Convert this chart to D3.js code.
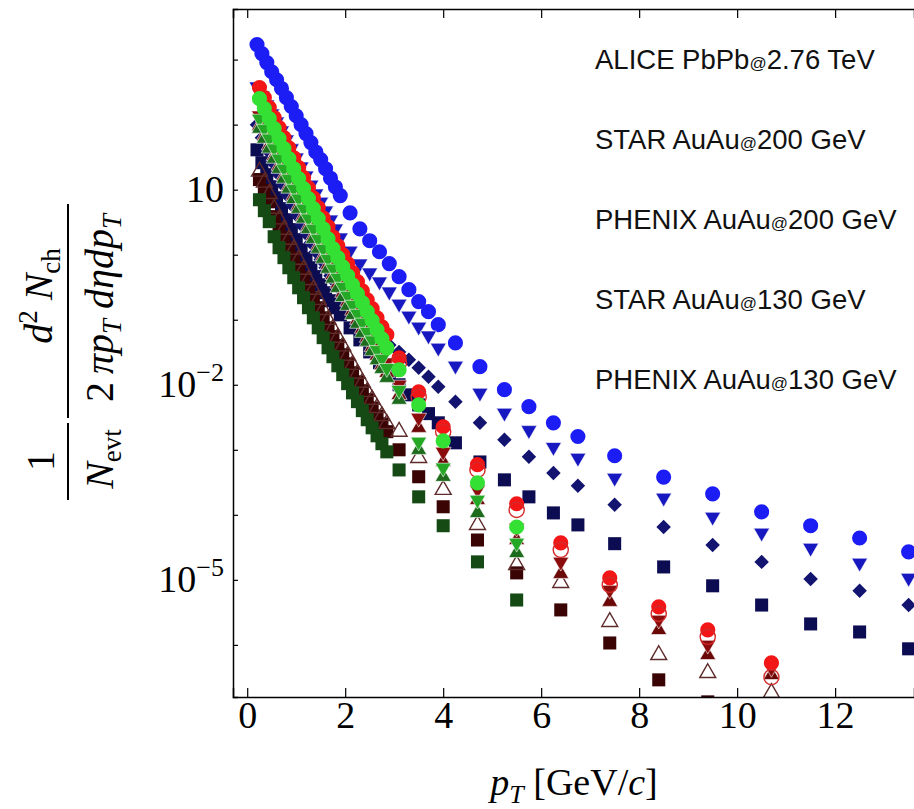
<!DOCTYPE html>
<html>
<head>
<meta charset="utf-8">
<script src="https://cdn.jsdelivr.net/npm/d3@7"></script>
<style>
body { margin: 0; background: #fff; }
</style>
</head>
<body>
<script>
var W = 914, H = 809

// ALICE PbPb 2.76 TeV (blue family)
var ptAlice = [0.2,0.3,0.4,0.5,0.6,0.7,0.8,0.9,1.0,1.1,1.2,1.3,1.4,1.5,1.6,1.7,1.8,1.9,
  2.1,2.3,2.5,2.7,2.9,3.1,3.3,3.5,3.7,3.9,4.25,4.75,5.25,5.75,6.25,6.75,7.5,8.5,9.5,10.5,11.5,12.5,13.5]
var aliceCircle = [1700,1240,900,650,490,360,260,190,137,100,73,53,38,29,21,15,11,8.1,
  4.4,2.5,1.64,1.11,0.73,0.46,0.29,0.19,0.133,0.084,0.044,0.019,0.0084,0.0046,0.0026,0.0016,
  8.1e-4,3.8e-4,2.1e-4,1.11e-4,6.8e-5,4.4e-5,2.7e-5]
var aliceDown = [385,279,203,148,111,81,59,43,31,22.6,16.4,11.9,8.7,6.5,4.75,3.45,2.51,1.83,
  1.15,0.73,0.53,0.385,0.27,0.176,0.115,0.078,0.057,0.037,0.0196,0.0075,0.0037,0.0020,0.0011,7.5e-4,
  3.7e-4,1.83e-4,9.3e-5,5.3e-5,3.1e-5,1.83e-5,1.07e-5]
var aliceDiamond = [100,63,41,27,18.3,12.4,8.4,5.9,4.1,2.9,2.1,1.53,1.11,0.84,0.63,0.475,0.37,0.29,
  0.183,0.119,0.081,0.057,0.041,0.032,0.0243,0.0183,0.0133,0.0093,0.0055,0.0026,0.00143,7.8e-4,4.4e-4,2.8e-4,
  1.43e-4,6.5e-5,3.45e-5,1.89e-5,1.03e-5,6.8e-6,4.1e-6]
var aliceSquare = [41,26,17,11.1,7.5,5.1,3.45,2.43,1.70,1.19,0.87,0.63,0.46,0.345,0.26,0.196,0.153,0.119,
  0.075,0.049,0.032,0.0218,0.0148,0.010,0.0070,0.0049,0.0036,0.0026,0.00128,6.5e-4,3.45e-4,1.89e-4,1.07e-4,7.0e-5,
  3.6e-5,1.58e-5,8.1e-6,4.1e-6,2.1e-6,1.58e-6,8.7e-7]

// AuAu 200 GeV (red family)
var ptRed = [0.25,0.35,0.45,0.55,0.65,0.75,0.85,0.95,1.05,1.15,1.25,1.35,1.45,1.55,1.65,1.75,1.85,1.95,
  2.05,2.15,2.25,2.35,2.45,2.55,2.65,2.75,2.85,3.1,3.5,4.0,4.7,5.5,6.4,7.4,8.4,9.4,10.7]
var redCircle = [371,260,183,128,90,63,44,31,21.8,15.3,10.7,7.5,5.3,3.7,2.70,1.89,1.37,1.0,
  0.73,0.53,0.385,0.279,0.203,0.148,0.107,0.078,0.059,0.026,0.0078,0.00226,5.9e-4,1.48e-4,3.7e-5,1.07e-5,3.85e-6,1.70e-6,5.3e-7]
var redDown = [138,96,68,47.5,33.4,23.4,16.3,11.5,8.1,5.7,4.0,2.78,1.97,1.37,1.0,0.70,0.51,0.371,
  0.271,0.197,0.143,0.104,0.075,0.055,0.040,0.029,0.022,0.010,0.0031,9.3e-4,2.43e-4,6.3e-5,1.89e-5,7.0e-6,2.43e-6,1.0e-6,4.4e-7]
var redUp = [96,68,48,33,23.4,16.4,11.4,8.1,5.7,4.0,2.78,1.95,1.38,0.96,0.70,0.49,0.36,0.26,
  0.19,0.138,0.100,0.073,0.053,0.038,0.028,0.020,0.0153,0.0070,0.00218,6.5e-4,1.70e-4,4.1e-5,1.24e-5,4.6e-6,1.70e-6,7.0e-7,3.45e-7]
var redOpenTri = [19,12.9,8.6,5.1,3.5,2.43,1.70,1.20,0.84,0.59,0.41,0.29,0.203,0.142,0.100,0.073,0.053,0.039,
  0.028,0.0203,0.0148,0.0108,0.0078,0.0059,0.0044,0.0033,0.0025,0.0019,7.5e-4,2.43e-4,7.0e-5,1.70e-5,9.0e-6,2.26e-6,7.0e-7,3.7e-7,1.83e-7]
var redSquare = [14.3,9.7,6.5,3.85,2.6,1.83,1.28,0.90,0.63,0.443,0.31,0.218,0.153,0.107,0.075,0.055,0.040,0.029,
  0.021,0.0153,0.0111,0.0081,0.0059,0.0044,0.0033,0.0025,0.0019,0.0010,3.85e-4,1.33e-4,4.1e-5,1.28e-5,3.45e-6,1.07e-6,2.9e-7,1.33e-7,null]
var ptRedOpen = [3.1,3.5,4.0,4.7,5.5,6.4,7.4,8.4,9.4,10.7]
var redOpenCircle = [0.022,0.0065,0.0019,4.9e-4,1.19e-4,2.9e-5,8.4e-6,3.0e-6,1.33e-6,3.2e-7]

// AuAu 130 GeV (green family)
var ptGreen = [0.25,0.35,0.45,0.55,0.65,0.75,0.85,0.95,1.05,1.15,1.25,1.35,1.45,1.55,1.65,1.75,1.85,1.95,
  2.05,2.15,2.25,2.35,2.45,2.55,2.65,2.75,2.85,3.1,3.5,4.0,4.7,5.5]
var greenCircle = [251,176,124,87,61,42.8,30,21,14.8,10.4,7.3,5.1,3.58,2.51,1.76,1.24,0.90,0.65,
  0.475,0.345,0.251,0.183,0.133,0.097,0.070,0.051,0.037,0.017,0.0049,0.00137,3.1e-4,6.5e-5]
var greenDown = [123,86,61,43,30,21,14.7,10.3,7.3,5.1,3.6,2.5,1.75,1.23,0.86,0.61,0.44,0.32,
  0.233,0.169,0.123,0.090,0.065,0.048,0.034,0.025,0.018,0.0083,0.00133,5.3e-4,1.70e-4,3.7e-5]
var greenUp = [87,61,43,30,21,14.8,10.4,7.2,5.1,3.6,2.5,1.76,1.24,0.87,0.61,0.43,0.31,0.224,
  0.164,0.119,0.087,0.063,0.046,0.033,0.024,0.0176,0.0128,0.0059,0.001,3.85e-4,1.07e-4,2.6e-5]
var greenSquare = [7.0,4.75,3.22,1.89,1.28,0.90,0.63,0.443,0.31,0.218,0.153,0.107,0.075,0.053,0.037,0.027,0.0196,0.0143,
  0.0104,0.0075,0.0055,0.0040,0.0029,0.00218,0.00164,0.00124,9.3e-4,4.9e-4,1.89e-4,6.8e-5,1.89e-5,4.9e-6]

var legendLabels = ["ALICE PbPb@2.76 TeV", "STAR AuAu@200 GeV", "PHENIX AuAu@200 GeV",
  "STAR AuAu@130 GeV", "PHENIX AuAu@130 GeV"]
var xTicks = [0, 2, 4, 6, 8, 10, 12]
var yLabelled = [1e1, 1e-2, 1e-5]

// drawing order: bottom first
var series = [
  {pt: ptAlice, v: aliceSquare, shape: "square", fill: "#0c0c52"},
  {pt: ptAlice, v: aliceDiamond, shape: "diamond", fill: "#131370"},
  {pt: ptAlice, v: aliceCircle, shape: "circle", fill: "#1c1cf5"},
  {pt: ptAlice, v: aliceDown, shape: "down", fill: "#1818c0"},
  {pt: ptRed, v: redSquare, shape: "square", fill: "#3a0404"},
  {pt: ptRed, v: redOpenTri, shape: "up", fill: "none", stroke: "#5e2a2a"},
  {pt: ptGreen, v: greenSquare, shape: "square", fill: "#154a15"},
  {pt: ptRed, v: redUp, shape: "up", fill: "#6a0808"},
  {pt: ptRed, v: redDown, shape: "down", fill: "#8a0c0c"},
  {pt: ptRed, v: redCircle, shape: "circle", fill: "#f21616"},
  {pt: ptRedOpen, v: redOpenCircle, shape: "circle", fill: "none", stroke: "#d42a2a"},
  {pt: ptGreen, v: greenUp, shape: "up", fill: "#1d6b1d"},
  {pt: ptGreen, v: greenDown, shape: "down", fill: "#25a825"},
  {pt: ptGreen, v: greenCircle, shape: "circle", fill: "#35e035"}
]

var plot = {left: 233, top: 9, right: 914, bottom: 697}

var x = d3.scaleLinear().domain([-0.29, 13.61]).range([plot.left, plot.right])
var y = d3.scaleLog().domain([1.58e-7, 6.0e3]).range([plot.bottom, plot.top])

var svg = d3.select("body").append("svg")
    .attr("width", W)
    .attr("height", H)

svg.append("defs").append("clipPath")
    .attr("id", "clip")
    .append("rect")
    .attr("x", plot.left)
    .attr("y", plot.top)
    .attr("width", plot.right - plot.left)
    .attr("height", plot.bottom - plot.top)

var symbols = {
  circle: d3.symbol().type(d3.symbolCircle).size(180),
  square: d3.symbol().type(d3.symbolSquare).size(170),
  diamond: d3.symbol().type(d3.symbolSquare).size(105),
  up: d3.symbol().type(d3.symbolTriangle).size(110),
  down: d3.symbol().type(d3.symbolTriangle).size(110)
}
var rot = {circle: 0, square: 0, diamond: 45, up: 0, down: 180}

var marks = svg.append("g").attr("clip-path", "url(#clip)")

series.forEach(function(s) {
  var pts = s.pt.map(function(p, i) { return {pt: p, v: s.v[i]} })
      .filter(function(d) { return d.v != null })
  marks.append("g").selectAll("path")
      .data(pts)
      .enter().append("path")
      .attr("d", symbols[s.shape])
      .attr("transform", function(d) {
        return "translate(" + x(d.pt) + "," + y(d.v) + ") rotate(" + rot[s.shape] + ")"
      })
      .style("fill", s.fill)
      .style("stroke", s.stroke ? s.stroke : (s.shape == "up" || s.shape == "down" ? "#fff" : "none"))
      .style("stroke-width", s.stroke ? 1.4 : 0.6)
})

// axes
var minor = d3.range(0, 13.6, 0.5)
var axBottom = svg.append("g").attr("transform", "translate(0," + plot.bottom + ")")
axBottom.call(d3.axisBottom(x).tickValues(minor).tickSize(-5).tickFormat(""))
axBottom.call(d3.axisBottom(x).tickValues(xTicks).tickSize(-9).tickFormat(d3.format("d")))
axBottom.selectAll("text")
    .attr("y", 31)
    .attr("dy", 0)
    .style("font", "38px 'Liberation Serif', 'Times New Roman', serif")
    .style("fill", "#000")

var axTop = svg.append("g").attr("transform", "translate(0," + plot.top + ")")
axTop.call(d3.axisTop(x).tickValues(minor).tickSize(-5).tickFormat(""))
axTop.call(d3.axisTop(x).tickValues(xTicks).tickSize(-9).tickFormat(""))

var decades = d3.range(-6, 4).map(function(e) { return Math.pow(10, e) })
var axLeft = svg.append("g").attr("transform", "translate(" + plot.left + ",0)")
axLeft.call(d3.axisLeft(y).tickValues(decades).tickSize(-5).tickFormat(""))

svg.selectAll(".domain").style("stroke", "#000").style("stroke-width", 1.5)
svg.selectAll(".tick line").style("stroke", "#000").style("stroke-width", 1.2)

var serif = "'Liberation Serif', 'Times New Roman', serif"

// y tick labels with exponents
yLabelled.forEach(function(v) {
  var e = Math.round(Math.log10(v))
  var t = svg.append("text")
      .attr("x", 224)
      .attr("y", y(v) + 12)
      .attr("text-anchor", "end")
      .style("font", "38px " + serif)
  t.append("tspan").text("10")
  if (e != 1) {
    t.append("tspan").attr("dy", -16).style("font-size", "26px").text("\u2212" + (-e))
  }
})

// x axis title
var xt = svg.append("text")
    .attr("x", 574)
    .attr("y", 795)
    .attr("text-anchor", "middle")
    .style("font", "38px " + serif)
xt.append("tspan").style("font-style", "italic").text("p")
xt.append("tspan").attr("dy", 8).style("font-size", "26px").style("font-style", "italic").text("T")
xt.append("tspan").attr("dy", -8).text(" [GeV/")
xt.append("tspan").style("font-style", "italic").text("c")
xt.append("tspan").text("]")

// y axis title, rotated (local x = -screen y, local y = screen x)
var yt = svg.append("g").attr("transform", "rotate(-90)")
yt.append("line").attr("x1", -500).attr("x2", -423).attr("y1", 68).attr("y2", 68)
    .style("stroke", "#000").style("stroke-width", 2)
yt.append("line").attr("x1", -418).attr("x2", -204).attr("y1", 68).attr("y2", 68)
    .style("stroke", "#000").style("stroke-width", 2)
yt.append("text").attr("x", -461).attr("y", 54).attr("text-anchor", "middle")
    .style("font", "40px " + serif).text("1")
var den1 = yt.append("text").attr("x", -459).attr("y", 113).attr("text-anchor", "middle")
    .style("font", "40px " + serif)
den1.append("tspan").style("font-style", "italic").text("N")
den1.append("tspan").attr("dy", 8).style("font-size", "27px").text("evt")
var num2 = yt.append("text").attr("x", -296).attr("y", 52).attr("text-anchor", "middle")
    .style("font", "40px " + serif)
num2.append("tspan").style("font-style", "italic").text("d")
num2.append("tspan").attr("dy", -15).style("font-size", "27px").text("2")
num2.append("tspan").attr("dy", 15).text(" ")
num2.append("tspan").style("font-style", "italic").text("N")
num2.append("tspan").attr("dy", 8).style("font-size", "27px").text("ch")
var den2 = yt.append("text").attr("x", -308).attr("y", 113).attr("text-anchor", "middle")
    .style("font", "40px " + serif)
den2.append("tspan").text("2\u2009")
den2.append("tspan").style("font-style", "italic").text("\u03c0p")
den2.append("tspan").attr("dy", 8).style("font-size", "27px").style("font-style", "italic").text("T")
den2.append("tspan").attr("dy", -8).style("font-style", "italic").text(" d\u03b7dp")
den2.append("tspan").attr("dy", 8).style("font-size", "27px").style("font-style", "italic").text("T")

// legend (text only)
legendLabels.forEach(function(s, i) {
  var parts = s.split("@")
  var t = svg.append("text")
      .attr("x", 595)
      .attr("y", 69 + i * 80)
      .style("font", "27.5px 'Liberation Sans', Arial, sans-serif")
      .style("fill", "#111")
  t.append("tspan").text(parts[0])
  t.append("tspan").style("font-size", "17px").text("@")
  t.append("tspan").text(parts[1])
})
</script>
</body>
</html>
